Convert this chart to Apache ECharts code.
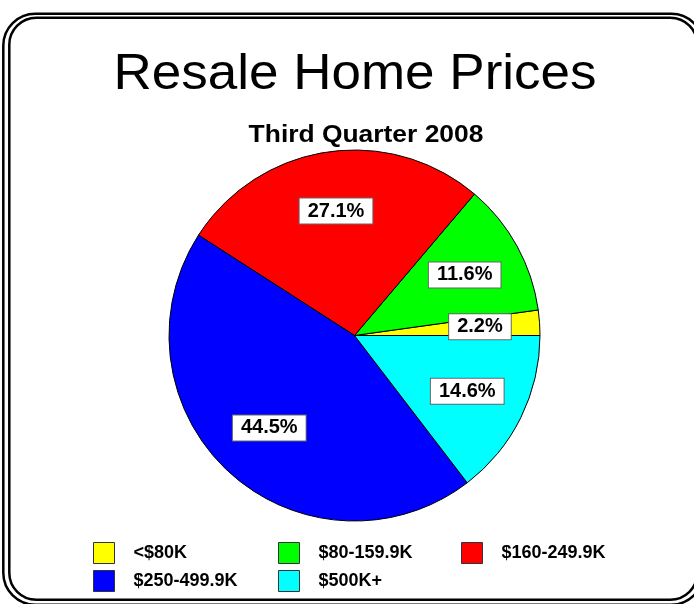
<!DOCTYPE html>
<html>
<head>
<meta charset="utf-8">
<title>Resale Home Prices</title>
<script src="https://cdn.jsdelivr.net/npm/echarts@6/dist/echarts.min.js"></script>
<style>
  html, body { margin: 0; padding: 0; background: #fff; }
  #chart { width: 694px; height: 604px; }
</style>
</head>
<body>
<div id="chart"></div>
<script>
// price bands, counter-clockwise from 3 o'clock
var categories = ['<$80K', '$80-159.9K', '$160-249.9K', '$250-499.9K', '$500K+'];
var shares = [2.2, 11.6, 27.1, 44.5, 14.6];
var colors = ['#ffff00', '#00ff00', '#ff0000', '#0000ff', '#00ffff'];
// legend columns (the original legend is a 3-column grid)
var legendCols = [
  ['<$80K', '$250-499.9K'],
  ['$80-159.9K', '$500K+'],
  ['$160-249.9K']
];
var legendLeft = [88, 273, 456];

var font = "'Liberation Sans', Arial, sans-serif";

var pieData = categories.map(function (name, i) {
  return { name: name, value: shares[i], itemStyle: { color: colors[i] } };
});

var legends = legendCols.map(function (col, i) {
  return {
    data: col,
    orient: 'vertical',
    left: legendLeft[i],
    top: 537,
    itemWidth: 21,
    itemHeight: 21,
    itemGap: 6,
    icon: 'rect',
    selectedMode: false,
    itemStyle: { borderColor: '#333', borderWidth: 1 },
    formatter: '{t|{name}}',
    textStyle: {
      color: '#000',
      rich: {
        t: { fontFamily: font, fontWeight: 'bold', fontSize: 18, color: '#000',
             padding: [0, 0, 0, 14] }
      }
    }
  };
});

var myChart = echarts.init(document.getElementById('chart'));
var option = {
  backgroundColor: '#fff',
  animation: false,
  color: colors,
  graphic: [
    { type: 'rect', shape: { x: 3.3, y: 13.7, width: 700, height: 591, r: 32 },
      style: { fill: 'none', stroke: '#000', lineWidth: 2.5 }, silent: true, z: 0 },
    { type: 'rect', shape: { x: 9.3, y: 17.7, width: 688, height: 582, r: 27 },
      style: { fill: 'none', stroke: '#000', lineWidth: 2.5 }, silent: true, z: 0 },
    { type: 'text', x: 355, y: 75, scaleX: 1.06, silent: true,
      style: { text: 'Resale Home Prices', font: 'normal 50px ' + font, fill: '#000',
               align: 'center', verticalAlign: 'middle' } },
    { type: 'text', x: 366, y: 135, scaleX: 1.1, silent: true,
      style: { text: 'Third Quarter 2008', font: 'bold 24px ' + font, fill: '#000',
               align: 'center', verticalAlign: 'middle' } }
  ],
  legend: legends,
  series: [
    {
      type: 'pie',
      center: [354.5, 335.5],
      radius: 185.5,
      startAngle: 0,
      clockwise: false,
      avoidLabelOverlap: false,
      silent: true,
      label: { show: false },
      labelLine: { show: false },
      itemStyle: { borderColor: '#000', borderWidth: 1 },
      data: pieData
    },
    {
      // transparent ring only used to place the percentage boxes
      type: 'pie',
      center: [354.5, 335.5],
      radius: [60, 185.5],
      startAngle: 0,
      clockwise: false,
      avoidLabelOverlap: false,
      silent: true,
      itemStyle: { color: 'rgba(0,0,0,0)', borderWidth: 0 },
      label: {
        show: true,
        position: 'inner',
        formatter: function (p) { return p.value.toFixed(1) + '%'; },
        fontFamily: font,
        fontWeight: 'bold',
        fontSize: 20,
        color: '#000',
        backgroundColor: '#fff',
        borderColor: '#666',
        borderWidth: 1,
        padding: [3, 8, 2, 8]
      },
      labelLine: { show: false },
      data: pieData.map(function (d) { return { name: d.name, value: d.value }; })
    }
  ]
};
myChart.setOption(option);
</script>
</body>
</html>
